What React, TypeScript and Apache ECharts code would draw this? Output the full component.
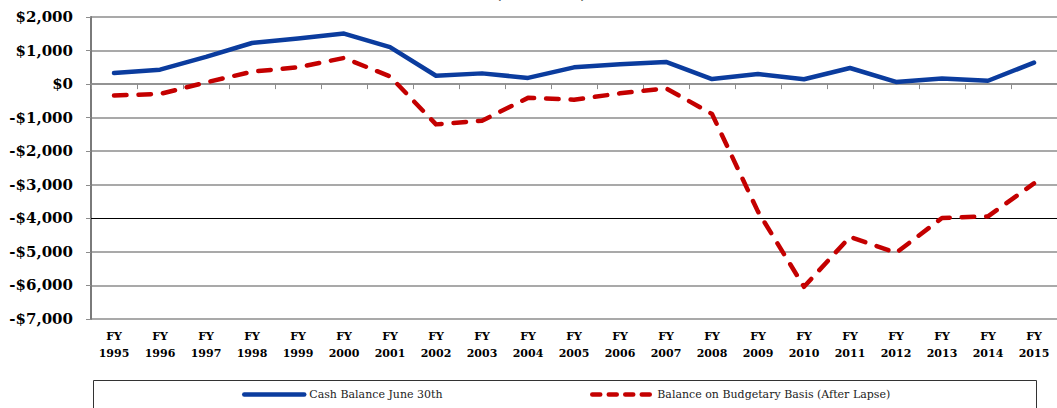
import React, { useEffect, useRef } from "react";
import * as echarts from "echarts";

const years = ["1995","1996","1997","1998","1999","2000","2001","2002","2003","2004","2005","2006","2007","2008","2009","2010","2011","2012","2013","2014","2015"];
const cashBalance = [330, 430, 810, 1225, 1360, 1505, 1100, 250, 320, 185, 500, 590, 660, 150, 300, 145, 480, 65, 170, 100, 640];
const budgetaryBalance = [-340, -295, 50, 370, 500, 780, 230, -1200, -1090, -410, -465, -275, -125, -890, -3800, -6040, -4550, -5030, -3990, -3940, -2960];
const seriesNames = ["Cash Balance June 30th", "Balance on Budgetary Basis (After Lapse)"];
const yTicks = { min: -7000, max: 2000, interval: 1000 };
const darkLineValue = -4000;

const fmtMoney = (v: number) => {
  const a = Math.abs(v).toLocaleString("en-US");
  return (v < 0 ? "-$" : "$") + a;
};

export default function App() {
  const ref = useRef<HTMLDivElement>(null);
  useEffect(() => {
    document.body.style.margin = "0";
    const chart = echarts.init(ref.current!, null, { renderer: "svg" });
    const gridColor = "#8c8c8c";
    const clear = "rgba(0,0,0,0)";
    const legendText = { fontFamily: "DejaVu Serif", fontSize: 11, color: "#222" };
    chart.setOption({
      animation: false,
      backgroundColor: "#ffffff",
      grid: { left: 91, top: 17, width: 976.5, height: 302, containLabel: false },
      xAxis: [
        {
          type: "category",
          data: years,
          boundaryGap: true,
          position: "bottom",
          axisLine: { show: false, onZero: false },
          axisTick: { show: false },
          splitLine: { show: false },
          axisLabel: {
            formatter: (v: string) => "FY\n" + v,
            fontFamily: "DejaVu Serif",
            fontWeight: "bold",
            fontSize: 11,
            lineHeight: 17,
            color: "#000",
            margin: 9,
            interval: 0,
          },
        },
        {
          type: "category",
          data: years,
          boundaryGap: true,
          position: "bottom",
          axisLine: { show: true, onZero: true, lineStyle: { color: gridColor, width: 1.5 } },
          axisTick: { show: true, length: 5, lineStyle: { color: gridColor, width: 1 } },
          axisLabel: { show: false },
          splitLine: { show: false },
        },
      ],
      yAxis: {
        type: "value",
        min: yTicks.min,
        max: yTicks.max,
        interval: yTicks.interval,
        axisLine: { show: true, lineStyle: { color: "#7a7a7a", width: 2 } },
        axisTick: { show: true, length: 5, lineStyle: { color: gridColor, width: 1 } },
        splitLine: {
          show: true,
          lineStyle: {
            color: [gridColor, gridColor, gridColor, clear, gridColor, gridColor, gridColor, gridColor, gridColor, gridColor],
            width: 1.5,
          },
        },
        axisLabel: {
          formatter: fmtMoney,
          fontFamily: "DejaVu Serif",
          fontWeight: "bold",
          fontSize: 15,
          color: "#000",
          margin: 18,
        },
      },
      legend: [
        {
          data: [seriesNames[0]],
          left: 242,
          top: 389,
          padding: 0,
          itemWidth: 60,
          itemHeight: 14,
          itemGap: 5,
          textStyle: legendText,
          itemStyle: { opacity: 0 },
          lineStyle: { width: 4.5, cap: "round" },
        },
        {
          data: [seriesNames[1]],
          left: 590,
          top: 389,
          padding: 0,
          itemWidth: 60,
          itemHeight: 14,
          textStyle: legendText,
          itemStyle: { opacity: 0 },
          lineStyle: { type: [8, 8.5], cap: "round", width: 4.5 },
        },
      ],
      graphic: [
        {
          type: "rect",
          shape: { x: 93.5, y: 380.5, width: 943, height: 40 },
          style: { fill: "none", stroke: "#333", lineWidth: 1 },
          silent: true,
        },
        {
          type: "text",
          x: 541,
          y: -12,
          style: {
            text: "(In Millions)",
            font: "bold 13px 'DejaVu Serif'",
            fill: "#000",
            textAlign: "center",
            textVerticalAlign: "top",
          },
          silent: true,
        },
      ],
      series: [
        {
          name: seriesNames[0],
          type: "line",
          data: cashBalance,
          xAxisIndex: 0,
          symbol: "none",
          lineStyle: { color: "#0b3c9e", width: 4.5, cap: "round", join: "round" },
          itemStyle: { color: "#0b3c9e" },
          z: 3,
          markLine: {
            silent: true,
            symbol: "none",
            label: { show: false },
            lineStyle: { color: "#000", width: 1, type: "solid" },
            data: [{ yAxis: darkLineValue }],
            z: 1,
          },
        },
        {
          name: seriesNames[1],
          type: "line",
          data: budgetaryBalance,
          xAxisIndex: 0,
          symbol: "none",
          lineStyle: { color: "#c40000", width: 4.5, type: [12.5, 12], cap: "round", join: "round" },
          itemStyle: { color: "#c40000" },
          z: 3,
        },
      ],
    });
    return () => chart.dispose();
  }, []);
  return <div ref={ref} style={{ width: 1057, height: 408 }} />;
}
